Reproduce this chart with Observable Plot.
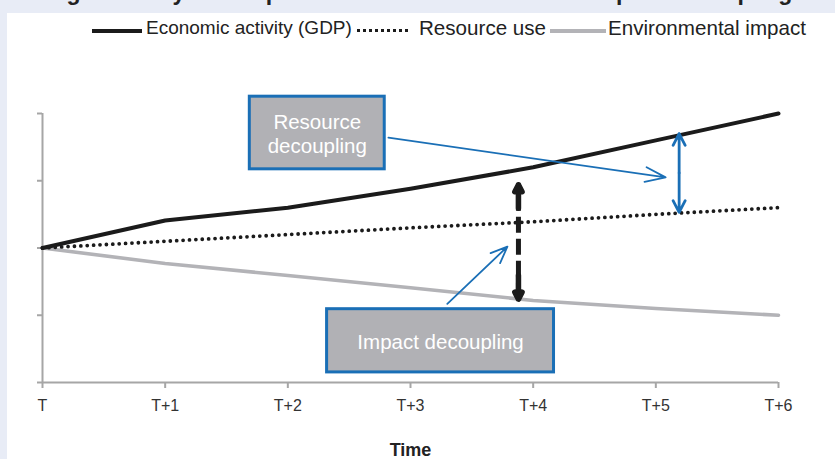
<!DOCTYPE html>
<html>
<head>
<meta charset="utf-8">
<script src="https://cdn.jsdelivr.net/npm/d3@7"></script>
<script src="https://cdn.jsdelivr.net/npm/@observablehq/plot@0.6"></script>
<style>
  html, body { margin: 0; padding: 0; }
  body { background: #e8ecf6; width: 835px; height: 459px; overflow: hidden; font-family: Arial, "Liberation Sans", sans-serif; }
  #title { height: 13px; overflow: hidden; position: relative; }
  #title span { position: absolute; left: 46px; top: -21px; font: bold 23px Arial, "Liberation Sans", sans-serif; color: #222; white-space: nowrap; }
  #panel { margin-left: 7px; background: #fff; width: 828px; height: 446px; position: relative; }
  #legend { height: 34px; position: relative; color: #222; }
  #legend .sw { position: absolute; top: 16px; height: 0; }
  #legend .tx { position: absolute; top: 4px; line-height: 22px; white-space: nowrap; }
  #chart svg { display: block; }
</style>
</head>
<body>
<div id="title"><span>Figure 1: Stylised representation of resource and impact decoupling</span></div>
<div id="panel">
  <div id="legend"></div>
  <div id="chart"></div>
</div>
<script>
// ---- data ----
const periods = ["T", "T+1", "T+2", "T+3", "T+4", "T+5", "T+6"];
const gdp = [2.0, 2.41, 2.60, 2.88, 3.20, 3.60, 4.0];
const resourceUse = [2.0, 2.10, 2.20, 2.30, 2.39, 2.50, 2.60];
const envImpact = [2.0, 1.77, 1.59, 1.41, 1.22, 1.10, 1.0];
const yTicks = [0, 1, 2, 3, 4];
const seriesNames = ["Economic activity (GDP)", "Resource use", "Environmental impact"];

// annotation boxes (in data units: x = period index, y = index value)
const boxLabels = ["Resource\ndecoupling", "Impact decoupling"];
const boxX1 = [1.69, 2.32];
const boxX2 = [2.79, 4.17];
const boxY1 = [3.17, 0.15];
const boxY2 = [4.25, 1.09];

// ---- colours ----
const black = "#1b1b1b", grey = "#b3b3b7", blue = "#1a6fb6", axisGrey = "#a6a6a6";

// ---- legend ----
const legend = document.getElementById("legend");
function el(cls, style, text) {
  const d = document.createElement("div");
  d.className = cls;
  Object.assign(d.style, style);
  if (text) d.textContent = text;
  legend.appendChild(d);
}
el("sw", {left: "85px", width: "50px", borderTop: "4px solid " + black});
el("tx", {left: "139px", fontSize: "19px"}, seriesNames[0]);
el("sw", {left: "350px", width: "51px", top: "16px", borderTop: "3px dotted " + black});
el("tx", {left: "412px", fontSize: "20.6px"}, seriesNames[1]);
el("sw", {left: "543px", width: "56px", borderTop: "4px solid " + grey});
el("tx", {left: "601px", fontSize: "20.6px"}, seriesNames[2]);

// ---- tables built from arrays ----
const idx = d3.range(periods.length);
const gdpData = idx.map(i => ({x: i, y: gdp[i]}));
const resData = idx.map(i => ({x: i, y: resourceUse[i]}));
const envData = idx.map(i => ({x: i, y: envImpact[i]}));
const boxes = boxLabels.map((label, i) => ({label, x1: boxX1[i], x2: boxX2[i], y1: boxY1[i], y2: boxY2[i]}));

// arrows
const resArrow = [{x1: 2.82, y1: 3.64, x2: 5.08, y2: 3.05}];
const impArrow = [{x1: 3.30, y1: 1.17, x2: 3.79, y2: 2.02}];
const resGapX = 5.19, resGapTop = 3.70, resGapBot = 2.53;
const impGapX = 3.88, impGapTop = 2.94, impGapBot = 1.24;

const chart = Plot.plot({
  width: 828,
  height: 412,
  marginLeft: 35,
  marginRight: 57,
  marginTop: 66,
  marginBottom: 77,
  style: {fontFamily: "Arial, 'Liberation Sans', sans-serif", background: "transparent", overflow: "visible"},
  x: {domain: [0, 6]},
  y: {domain: [0, 4]},
  marks: [
    Plot.ruleY([0], {stroke: axisGrey, strokeWidth: 2}),
    Plot.ruleX([0], {stroke: axisGrey, strokeWidth: 2}),
    Plot.axisX({ticks: idx, tickFormat: i => periods[i], tickSize: 6, tickPadding: 11, stroke: axisGrey, strokeWidth: 2, fill: "#333", fontSize: 16, label: null}),
    Plot.axisY({ticks: yTicks, tickFormat: () => "", tickSize: 5, stroke: axisGrey, strokeWidth: 2, label: null}),
    Plot.text(["Time"], {frameAnchor: "bottom", dy: 73, fontSize: 18, fontWeight: "bold", fill: "#222"}),
    Plot.line(envData, {x: "x", y: "y", stroke: grey, strokeWidth: 3.6}),
    Plot.line(resData, {x: "x", y: "y", stroke: black, strokeWidth: 3.8, strokeDasharray: "0 6.4", strokeLinecap: "round"}),
    Plot.line(gdpData, {x: "x", y: "y", stroke: black, strokeWidth: 4}),
    // annotation boxes
    Plot.rect(boxes, {x1: "x1", x2: "x2", y1: "y1", y2: "y2", fill: "#b1b1b5", stroke: blue, strokeWidth: 3}),
    Plot.text(boxes, {x: d => (d.x1 + d.x2) / 2, y: d => (d.y1 + d.y2) / 2, text: "label", fill: "white", fontSize: 20.5, lineHeight: 1.2}),
    // pointer arrows
    Plot.arrow(resArrow, {x1: "x1", y1: "y1", x2: "x2", y2: "y2", stroke: blue, strokeWidth: 1.8, headLength: 18, headAngle: 40}),
    Plot.arrow(impArrow, {x1: "x1", y1: "y1", x2: "x2", y2: "y2", stroke: blue, strokeWidth: 1.8, headLength: 15, headAngle: 45}),
    // resource decoupling gap (blue double arrow)
    Plot.arrow([resGapTop, resGapBot], {x1: resGapX, x2: resGapX, y1: (resGapTop + resGapBot) / 2, y2: d => d, stroke: blue, strokeWidth: 2.8, headLength: 14, headAngle: 55, strokeLinejoin: "round"}),
    // impact decoupling gap (black dashed double arrow)
    Plot.link([0], {x1: impGapX, x2: impGapX, y1: impGapTop - 0.15, y2: impGapBot + 0.15, stroke: black, strokeWidth: 5, strokeDasharray: "16 6"}),
    Plot.arrow([[impGapTop - 0.35, impGapTop], [impGapBot + 0.35, impGapBot]], {x1: impGapX, x2: impGapX, y1: d => d[0], y2: d => d[1], stroke: black, strokeWidth: 5.5, headLength: 20, headAngle: 55, strokeLinejoin: "round"})
  ]
});
document.getElementById("chart").appendChild(chart);
</script>
</body>
</html>
